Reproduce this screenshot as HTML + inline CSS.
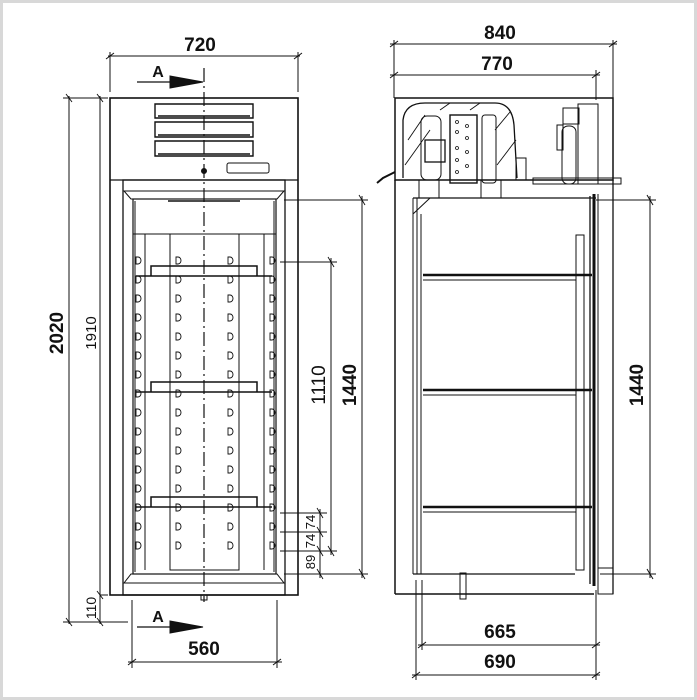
<!DOCTYPE html>
<html><head><meta charset="utf-8">
<style>
html,body{margin:0;padding:0;background:#fff}
svg{display:block}
text{font-family:"Liberation Sans",sans-serif;fill:#111}
.b{font-weight:bold}
</style></head>
<body>
<svg width="697" height="700" viewBox="0 0 697 700" xmlns="http://www.w3.org/2000/svg">
<defs>
<g id="col">
<path d="M0 0 h2 a3 3.5 0 0 1 0 7 h-2 z"/>
<path d="M0 19 h2 a3 3.5 0 0 1 0 7 h-2 z"/>
<path d="M0 38 h2 a3 3.5 0 0 1 0 7 h-2 z"/>
<path d="M0 57 h2 a3 3.5 0 0 1 0 7 h-2 z"/>
<path d="M0 76 h2 a3 3.5 0 0 1 0 7 h-2 z"/>
<path d="M0 95 h2 a3 3.5 0 0 1 0 7 h-2 z"/>
<path d="M0 114 h2 a3 3.5 0 0 1 0 7 h-2 z"/>
<path d="M0 133 h2 a3 3.5 0 0 1 0 7 h-2 z"/>
<path d="M0 152 h2 a3 3.5 0 0 1 0 7 h-2 z"/>
<path d="M0 171 h2 a3 3.5 0 0 1 0 7 h-2 z"/>
<path d="M0 190 h2 a3 3.5 0 0 1 0 7 h-2 z"/>
<path d="M0 209 h2 a3 3.5 0 0 1 0 7 h-2 z"/>
<path d="M0 228 h2 a3 3.5 0 0 1 0 7 h-2 z"/>
<path d="M0 247 h2 a3 3.5 0 0 1 0 7 h-2 z"/>
<path d="M0 266 h2 a3 3.5 0 0 1 0 7 h-2 z"/>
<path d="M0 285 h2 a3 3.5 0 0 1 0 7 h-2 z"/>
</g>
</defs>
<rect x="1.5" y="1.5" width="694" height="697" fill="#fff" stroke="#d8d8d8" stroke-width="3"/>
<g stroke="#111" fill="none" stroke-width="1">
<line x1="108" y1="56" x2="300" y2="56"/>
<line x1="110" y1="52" x2="110" y2="92"/><line x1="298" y1="52" x2="298" y2="92"/>
<line x1="106" y1="59" x2="114" y2="53"/><line x1="294" y1="59" x2="302" y2="53"/>
<rect x="110" y="98" width="188" height="497" stroke-width="1.6"/>
<line x1="110" y1="180" x2="298" y2="180" stroke-width="1.2"/>
<g stroke-width="1.4">
<path d="M155 104 H253 V118 H155 Z"/><path d="M158 116 L250 116"/>
<path d="M155 122 H253 V137 H155 Z"/><path d="M158 135 L250 135"/>
<path d="M155 141 H253 V156 H155 Z"/><path d="M158 154 L250 154"/>
</g>
<rect x="227" y="163" width="42" height="10" rx="2"/>
<circle cx="204" cy="171" r="2.5" fill="#111"/>
<rect x="123" y="180" width="162" height="415" stroke-width="1.3"/>
<path d="M124 191 H284 L277 199 H131 Z"/>
<path d="M124 583 L131 574 H277 L284 583 Z"/>
<rect x="133" y="199" width="143" height="375" stroke-width="1.2"/>
<line x1="135" y1="201" x2="135" y2="572"/><line x1="274" y1="201" x2="274" y2="572"/>
<line x1="133" y1="234" x2="276" y2="234"/>
<line x1="168" y1="201" x2="240" y2="201" stroke-width="1.5"/>
<line x1="145" y1="234" x2="145" y2="570"/><line x1="264" y1="234" x2="264" y2="570"/>
<rect x="170" y="234" width="69" height="336"/>
<g stroke-width="1.5">
<line x1="136" y1="276" x2="272" y2="276"/><path d="M151 276 V266 H257 V276"/>
<line x1="136" y1="392" x2="272" y2="392"/><path d="M151 392 V382 H257 V392"/>
<line x1="136" y1="507" x2="272" y2="507"/><path d="M151 507 V497 H257 V507"/>
</g>
<line x1="204" y1="68" x2="204" y2="602" stroke-dasharray="14,4,2,4" stroke-width="1.2"/>
<rect x="201" y="595" width="6" height="5"/>
<line x1="137" y1="82" x2="172" y2="82" stroke-width="1.2"/>
<path d="M170 76 L203 82 L170 88 Z" fill="#111"/>
<line x1="137" y1="627" x2="172" y2="627" stroke-width="1.2"/>
<path d="M170 621 L203 627 L170 633 Z" fill="#111"/>
<line x1="69" y1="96" x2="69" y2="624"/>
<line x1="63" y1="98" x2="108" y2="98"/>
<line x1="63" y1="622" x2="128" y2="622"/>
<line x1="100" y1="96" x2="100" y2="624"/>
<line x1="100" y1="595" x2="108" y2="595"/>
<g stroke-width="0.9">
<line x1="66" y1="94" x2="72" y2="102"/><line x1="66" y1="618" x2="72" y2="626"/>
<line x1="97" y1="94" x2="103" y2="102"/><line x1="97" y1="591" x2="103" y2="599"/><line x1="97" y1="618" x2="103" y2="626"/>
</g>
<line x1="132" y1="600" x2="132" y2="668"/><line x1="277" y1="600" x2="277" y2="668"/>
<line x1="128" y1="662" x2="282" y2="662"/>
<line x1="128" y1="665" x2="136" y2="659"/><line x1="273" y1="665" x2="281" y2="659"/>
<line x1="284" y1="200" x2="368" y2="200"/>
<line x1="280" y1="262" x2="337" y2="262"/>
<line x1="280" y1="513" x2="327" y2="513"/>
<line x1="280" y1="532" x2="327" y2="532"/>
<line x1="280" y1="551" x2="337" y2="551"/>
<line x1="284" y1="574" x2="368" y2="574"/>
<line x1="362" y1="196" x2="362" y2="578"/>
<line x1="331" y1="258" x2="331" y2="555"/>
<line x1="320" y1="509" x2="320" y2="578"/>
<g stroke-width="0.9">
<line x1="359" y1="195" x2="365" y2="205"/><line x1="359" y1="569" x2="365" y2="579"/>
<line x1="328" y1="257" x2="334" y2="267"/><line x1="328" y1="546" x2="334" y2="556"/>
<line x1="317" y1="508" x2="323" y2="518"/><line x1="317" y1="527" x2="323" y2="537"/>
<line x1="317" y1="546" x2="323" y2="556"/><line x1="317" y1="569" x2="323" y2="579"/>
</g>
<line x1="394" y1="40" x2="394" y2="98"/><line x1="613" y1="40" x2="613" y2="98"/>
<line x1="390" y1="44" x2="617" y2="44"/>
<line x1="390" y1="47" x2="398" y2="41"/><line x1="609" y1="47" x2="617" y2="41"/>
<line x1="596" y1="70" x2="596" y2="100"/>
<line x1="390" y1="75" x2="600" y2="75"/>
<line x1="390" y1="78" x2="398" y2="72"/><line x1="592" y1="78" x2="600" y2="72"/>
<rect x="395" y="98" width="218" height="82" stroke-width="1.5"/>
<path d="M403 178 V120 Q405 103 425 103 H495 Q512 103 514 125 L517 178" stroke-width="1.3"/>
<g stroke-width="0.9">
<line x1="405" y1="165" x2="430" y2="130"/><line x1="408" y1="140" x2="425" y2="115"/>
<line x1="440" y1="110" x2="450" y2="103"/><line x1="470" y1="110" x2="480" y2="103"/>
<line x1="495" y1="130" x2="510" y2="112"/><line x1="497" y1="165" x2="516" y2="140"/>
</g>
<rect x="421" y="116" width="20" height="64" rx="6"/>
<rect x="425" y="140" width="20" height="22" stroke-width="1.3"/>
<rect x="450" y="115" width="27" height="68" stroke-width="1.4"/>
<g fill="none" stroke-width="0.8">
<circle cx="457" cy="122" r="1.5"/><circle cx="467" cy="126" r="1.5"/><circle cx="457" cy="132" r="1.5"/><circle cx="467" cy="138" r="1.5"/>
<circle cx="457" cy="148" r="1.5"/><circle cx="467" cy="152" r="1.5"/><circle cx="457" cy="160" r="1.5"/><circle cx="467" cy="166" r="1.5"/><circle cx="457" cy="172" r="1.5"/>
</g>
<rect x="482" y="115" width="14" height="68" rx="3"/>
<rect x="419" y="180" width="20" height="18"/><rect x="481" y="180" width="20" height="18"/>
<rect x="516" y="158" width="10" height="22"/>
<rect x="563" y="108" width="16" height="16"/><rect x="557" y="125" width="6" height="25"/>
<rect x="578" y="104" width="20" height="80"/>
<rect x="562" y="126" width="14" height="58" rx="6"/>
<rect x="533" y="178" width="88" height="6"/>
<path d="M395 172 L383 178 L377 183" stroke-width="2"/>
<line x1="395" y1="180" x2="395" y2="594" stroke-width="1.5"/>
<line x1="395" y1="594" x2="594" y2="594" stroke-width="1.5"/>
<line x1="413" y1="198" x2="413" y2="574"/><line x1="417" y1="198" x2="417" y2="574"/>
<line x1="413" y1="198" x2="596" y2="198" stroke-width="1.2"/>
<line x1="413" y1="214" x2="430" y2="198"/>
<line x1="421" y1="214" x2="421" y2="574"/>
<line x1="413" y1="574" x2="575" y2="574" stroke-width="1.2"/>
<rect x="576" y="235" width="8" height="335"/>
<g stroke-width="2.5">
<line x1="423" y1="275" x2="592" y2="275"/>
<line x1="423" y1="390" x2="592" y2="390"/>
<line x1="423" y1="507" x2="592" y2="507"/>
</g>
<line x1="423" y1="280" x2="576" y2="280"/><line x1="423" y1="395" x2="576" y2="395"/><line x1="423" y1="512" x2="576" y2="512"/>
<line x1="590" y1="196" x2="590" y2="584" stroke-width="1.3"/>
<line x1="594" y1="194" x2="594" y2="586" stroke-width="3"/>
<line x1="598" y1="194" x2="598" y2="586"/>
<line x1="613" y1="180" x2="613" y2="594" stroke-width="1.3"/>
<rect x="598" y="568" width="15" height="26"/>
<rect x="460" y="573" width="6" height="26"/>
<line x1="596" y1="200" x2="656" y2="200"/><line x1="600" y1="574" x2="656" y2="574"/>
<line x1="650" y1="196" x2="650" y2="578"/>
<line x1="647" y1="195" x2="653" y2="205"/><line x1="647" y1="569" x2="653" y2="579"/>
<line x1="416" y1="580" x2="416" y2="680"/><line x1="422" y1="580" x2="422" y2="650"/><line x1="596" y1="590" x2="596" y2="680"/>
<line x1="418" y1="645" x2="600" y2="645"/>
<line x1="412" y1="675" x2="600" y2="675"/>
<line x1="418" y1="648" x2="426" y2="642"/><line x1="592" y1="648" x2="600" y2="642"/>
<line x1="412" y1="678" x2="420" y2="672"/><line x1="592" y1="678" x2="600" y2="672"/>
</g>
<g stroke="#111" fill="none" stroke-width="0.9">
<use href="#col" x="176" y="257"/>
<use href="#col" x="228" y="257"/>
<use href="#col" x="136" y="257"/>
<use href="#col" x="270" y="257"/>
</g>
<text x="200" y="51" font-size="19" text-anchor="middle" class="b">720</text>
<text x="158" y="77" font-size="16" text-anchor="middle" class="b">A</text>
<text x="158" y="622" font-size="16" text-anchor="middle" class="b">A</text>
<text x="204" y="655" font-size="19" text-anchor="middle" class="b">560</text>
<text transform="translate(63,333) rotate(-90)" font-size="19" text-anchor="middle" class="b">2020</text>
<text transform="translate(96,333) rotate(-90)" font-size="15" text-anchor="middle">1910</text>
<text transform="translate(96,608) rotate(-90)" font-size="14" text-anchor="middle">110</text>
<text transform="translate(325,385) rotate(-90)" font-size="19" text-anchor="middle">1110</text>
<text transform="translate(356,385) rotate(-90)" font-size="19" text-anchor="middle" class="b">1440</text>
<text transform="translate(315,522) rotate(-90)" font-size="13" text-anchor="middle">74</text>
<text transform="translate(315,541) rotate(-90)" font-size="13" text-anchor="middle">74</text>
<text transform="translate(315,562) rotate(-90)" font-size="13" text-anchor="middle">89</text>
<text x="500" y="39" font-size="19" text-anchor="middle" class="b">840</text>
<text x="497" y="70" font-size="19" text-anchor="middle" class="b">770</text>
<text transform="translate(643,385) rotate(-90)" font-size="19" text-anchor="middle" class="b">1440</text>
<text x="500" y="638" font-size="19" text-anchor="middle" class="b">665</text>
<text x="500" y="668" font-size="19" text-anchor="middle" class="b">690</text>
</svg>
</body></html>
